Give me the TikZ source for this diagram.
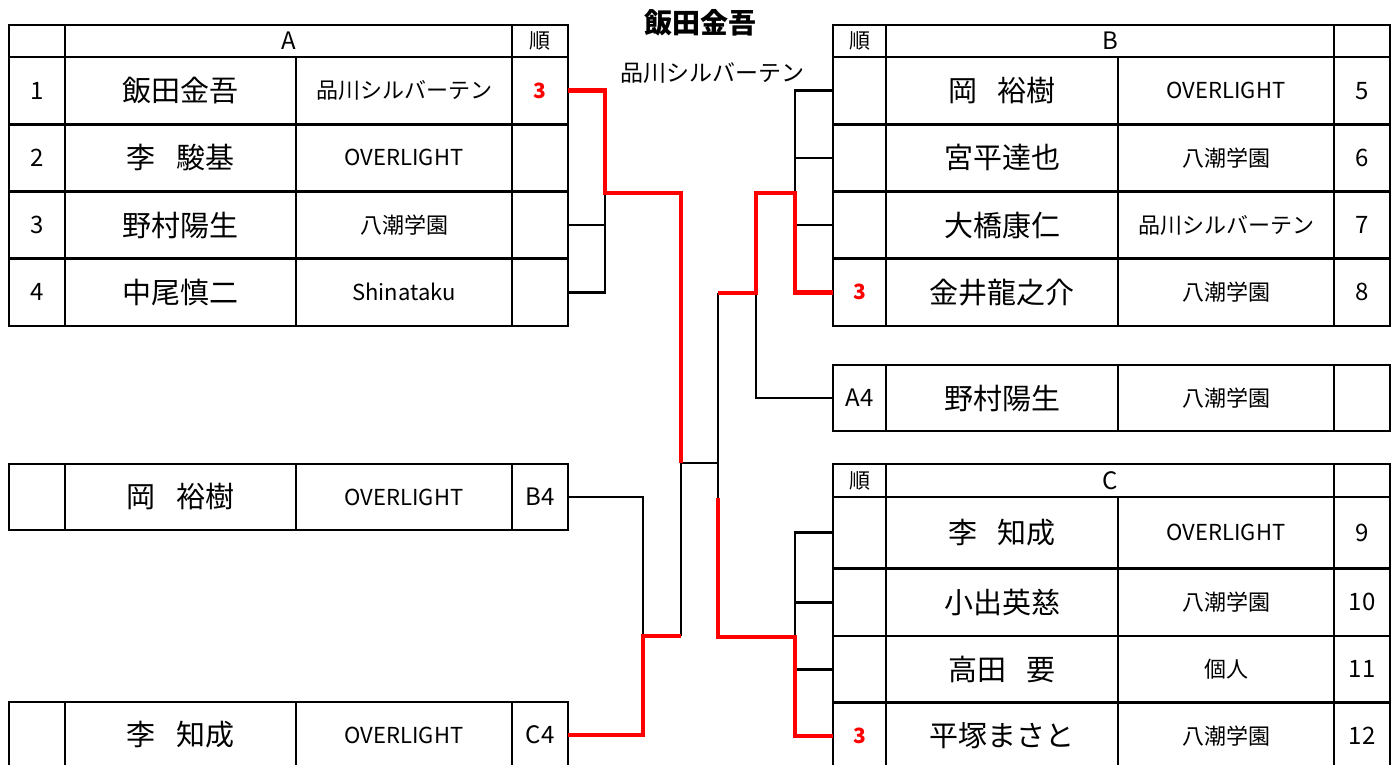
\documentclass[tikz,border=0pt]{standalone}
\usepackage{fontspec}
\setmainfont{Noto Sans CJK JP}
\usetikzlibrary{calc,positioning}
\newcommand{\gap}{\hspace{0.7em}}

\begin{document}
\begin{tikzpicture}[x=1pt,y=-1pt,
    cell/.style={draw,line width=2.9pt,rectangle,inner sep=0pt,outer sep=0pt,anchor=north west,font=\fontsize{22}{22}\selectfont},
    namecell/.style={cell,font=\fontsize{29}{29}\selectfont},
    numcell/.style={cell,font=\fontsize{24}{24}\selectfont},
    juncell/.style={cell,font=\fontsize{21}{21}\selectfont},
    rank/.style={text=red,font=\fontsize{21}{21}\selectfont\bfseries},
    tie/.style={line width=2.7pt},
    win/.style={line width=4.4pt,red}
  ]
    \useasboundingbox (0,0) rectangle (1400,765);

    \node[font=\fontsize{28}{28}\selectfont\bfseries] (champ) at (700,23) {飯田金吾};
    \node[font=\fontsize{23}{23}\selectfont] (champteam) at (712,73) {品川シルバーテン};

    % group A
    \node[cell,minimum width=56,minimum height=32] (A-hd0) at (9,25) {};
    \node[numcell,minimum width=447,minimum height=32] (A-hd) at (65,25) {A};
    \node[juncell,minimum width=56,minimum height=32] (A-jun) at (512,25) {順};
    \foreach \i/\y/\h/\nm/\sc/\rk in {1/57/67.25/飯田金吾/品川シルバーテン/3,
                                     2/124.25/67.25/李\gap 駿基/OVERLIGHT/{},
                                     3/191.5/67.25/野村陽生/八潮学園/{},
                                     4/258.75/67.25/中尾慎二/Shinataku/{}}{
      \node[numcell,minimum width=56,minimum height=\h] (A\i-no) at (9,\y) {\i};
      \node[namecell,minimum width=231,minimum height=\h] (A\i-nm) at (65,\y) {\nm};
      \node[cell,minimum width=216,minimum height=\h] (A\i-sc) at (296,\y) {\sc};
      \node[cell,rank,minimum width=56,minimum height=\h] (A\i-rk) at (512,\y) {\rk};
    }

    % group B
    \node[juncell,minimum width=53,minimum height=32] (B-jun) at (833,25) {順};
    \node[numcell,minimum width=448,minimum height=32] (B-hd) at (886,25) {B};
    \node[cell,minimum width=56,minimum height=32] (B-hd0) at (1334,25) {};
    \foreach \i/\y/\h/\nm/\sc/\rk in {5/57/67.25/岡\gap 裕樹/OVERLIGHT/{},
                                     6/124.25/67.25/宮平達也/八潮学園/{},
                                     7/191.5/67.25/大橋康仁/品川シルバーテン/{},
                                     8/258.75/67.25/金井龍之介/八潮学園/3}{
      \node[cell,rank,minimum width=53,minimum height=\h] (B\i-rk) at (833,\y) {\rk};
      \node[namecell,minimum width=232,minimum height=\h] (B\i-nm) at (886,\y) {\nm};
      \node[cell,minimum width=216,minimum height=\h] (B\i-sc) at (1118,\y) {\sc};
      \node[numcell,minimum width=56,minimum height=\h] (B\i-no) at (1334,\y) {\i};
    }

    % A4 qualifier
    \node[numcell,minimum width=53,minimum height=66] (Q-rk) at (833,365) {A4};
    \node[namecell,minimum width=232,minimum height=66] (Q-nm) at (886,365) {野村陽生};
    \node[cell,minimum width=216,minimum height=66] (Q-sc) at (1118,365) {八潮学園};
    \node[cell,minimum width=56,minimum height=66] (Q-no) at (1334,365) {};

    % group C
    \node[juncell,minimum width=53,minimum height=33] (C-jun) at (833,464) {順};
    \node[numcell,minimum width=448,minimum height=33] (C-hd) at (886,464) {C};
    \node[cell,minimum width=56,minimum height=33] (C-hd0) at (1334,464) {};
    \foreach \i/\y/\h/\nm/\sc/\rk in {9/497/71.5/李\gap 知成/OVERLIGHT/{},
                                     10/568.5/67.5/小出英慈/八潮学園/{},
                                     11/636/66.5/高田\gap 要/個人/{},
                                     12/702.5/67/平塚まさと/八潮学園/3}{
      \node[cell,rank,minimum width=53,minimum height=\h] (C\i-rk) at (833,\y) {\rk};
      \node[namecell,minimum width=232,minimum height=\h] (C\i-nm) at (886,\y) {\nm};
      \node[cell,minimum width=216,minimum height=\h] (C\i-sc) at (1118,\y) {\sc};
      \node[numcell,minimum width=56,minimum height=\h] (C\i-no) at (1334,\y) {\i};
    }

    % B4 and C4 qualifiers
    \foreach \q/\y/\nm/\rk in {P/464/岡\gap 裕樹/B4, R/702/李\gap 知成/C4}{
      \node[cell,minimum width=56,minimum height=66] (\q-no) at (9,\y) {};
      \node[namecell,minimum width=231,minimum height=66] (\q-nm) at (65,\y) {\nm};
      \node[cell,minimum width=216,minimum height=66] (\q-sc) at (296,\y) {OVERLIGHT};
      \node[numcell,minimum width=56,minimum height=66] (\q-rk) at (512,\y) {\rk};
    }

    \coordinate (Ajoin) at (605,193);
    \coordinate (Fleft) at (681,463);
    \coordinate (Fright) at (718,463);
    \coordinate (Bjoin) at (795,193);
    \coordinate (Bup) at (756,293);
    \coordinate (Bout) at (718,293);
    \coordinate (Cjoin) at (795,637);
    \coordinate (Cup) at (718,498);
    \coordinate (Djoin) at (643,636);
    \coordinate (Dout) at (681,636);

    \draw[tie] (A3-rk.east) -| (Ajoin);
    \draw[tie] (A4-rk.east) -| (Ajoin);
    \draw[tie] (B5-rk.west) -| (Bjoin);
    \draw[tie] (B6-rk.west) -| (Bjoin);
    \draw[tie] (B7-rk.west) -| (Bjoin);
    \draw[tie] (Q-rk.west) -| (Bup);
    \draw[tie] (Bout) -- (Cup);
    \draw[tie] (C9-rk.west) -| (Cjoin);
    \draw[tie] (C10-rk.west) -| (Cjoin);
    \draw[tie] (C11-rk.west) -| (Cjoin);
    \draw[tie] (Fleft) -- (Fright);
    \draw[tie] (P-rk.east) -| (Djoin);
    \draw[tie] (Dout) -- (Fleft);

    \draw[win] (A1-rk.east) -| (Ajoin) -| (Fleft);
    \draw[win] (B8-rk.west) -| (Bjoin) -| (Bup) -- (Bout);
    \draw[win] (C12-rk.west) -| (Cjoin) -| (Cup);
    \draw[win] (R-rk.east) -| (Djoin) -- (Dout);
\end{tikzpicture}
\end{document}
